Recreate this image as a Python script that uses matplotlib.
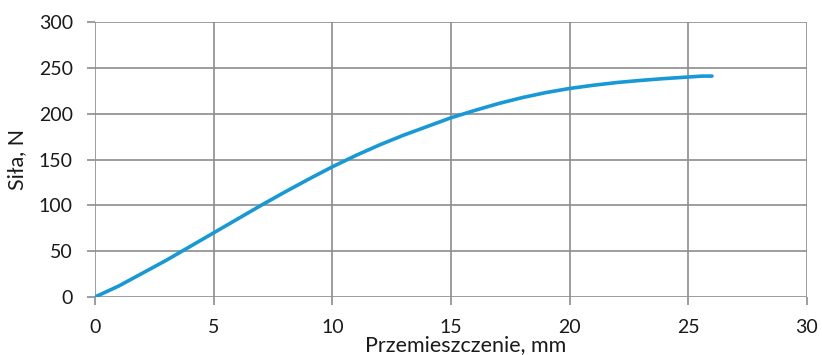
import numpy as np
import matplotlib.pyplot as plt

# displacement [mm] and force [N]
przemieszczenie = [0, 1, 2, 3, 4, 5, 6, 7, 8, 9, 10, 11, 12, 13, 14, 15, 16,
                   17, 18, 19, 20, 21, 22, 23, 24, 25, 25.6, 26]
sila = [0, 12, 26, 40, 55, 70, 85, 100, 114.5, 128.5, 142, 154.5, 166, 176.5,
        186, 195.5, 203.5, 211, 217.5, 223, 227.5, 231, 234, 236.3, 238.3, 240,
        241, 241]

x_ticks = [0, 5, 10, 15, 20, 25, 30]
y_ticks = [0, 50, 100, 150, 200, 250, 300]

plt.rcParams['font.family'] = ['Lato', 'DejaVu Sans']

fig = plt.figure(figsize=(8.22, 3.55), dpi=100)
ax = fig.add_axes([0.1156, 0.1634, 0.866, 0.7746])

ax.plot(przemieszczenie, sila, color='#1799d6', lw=2.6, solid_capstyle='round',
        solid_joinstyle='round', zorder=3)

ax.set_xlim(0, 30)
ax.set_ylim(0, 300)
ax.set_xticks(x_ticks)
ax.set_yticks(y_ticks)
ax.grid(True, color='#8c8c8c', lw=1.2)
for s in ax.spines.values():
    s.set_visible(False)
ax.tick_params(axis='both', length=6, width=1.2, color='#8c8c8c', labelsize=14,
               labelcolor='#1a1a1a')
ax.tick_params(axis='y', pad=10)
ax.tick_params(axis='x', pad=10)

ax.set_xlabel('Przemieszczenie, mm', fontsize=15.5, color='#1a1a1a', labelpad=-1, x=0.52)
ax.set_ylabel('Siła, N', fontsize=15.5, color='#1a1a1a', labelpad=8)

fig.savefig('out.png', dpi=100)
